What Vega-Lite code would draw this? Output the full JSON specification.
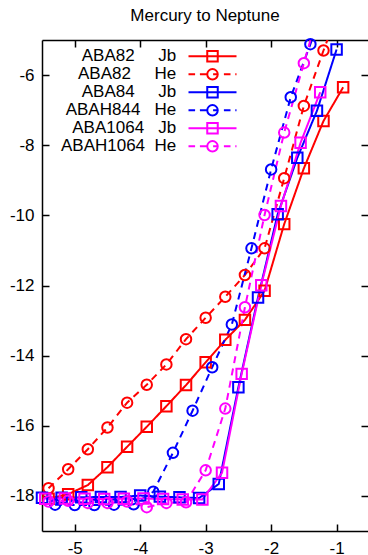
{
  "$schema": "https://vega.github.io/schema/vega-lite/v6.json",
  "width": 326,
  "height": 491,
  "autosize": {"type": "none"},
  "padding": {"left": 42, "top": 40, "right": 0, "bottom": 24},
  "title": {
    "text": "Mercury to Neptune",
    "font": "Liberation Sans",
    "fontSize": 17,
    "fontWeight": "normal",
    "color": "black",
    "anchor": "middle",
    "baseline": "alphabetic",
    "offset": 2,
    "dy": 5
  },
  "config": {
    "view": {"stroke": null},
    "font": "Liberation Sans",
    "axis": {
      "title": null,
      "grid": false,
      "domainColor": "black",
      "domainWidth": 1.5,
      "tickColor": "black",
      "tickWidth": 1.5,
      "tickSize": -7,
      "labelFont": "Liberation Sans",
      "labelFontSize": 17,
      "labelColor": "black",
      "labelFlush": false,
      "labelOverlap": false,
      "labelExpr": "toString(datum.value)"
    }
  },
  "data": {
    "values": [
      {"series": "ABA82 Jb", "kind": "Jb", "x": -5.4, "y": -18.08},
      {"series": "ABA82 Jb", "kind": "Jb", "x": -5.1, "y": -17.95},
      {"series": "ABA82 Jb", "kind": "Jb", "x": -4.8, "y": -17.69},
      {"series": "ABA82 Jb", "kind": "Jb", "x": -4.5, "y": -17.18},
      {"series": "ABA82 Jb", "kind": "Jb", "x": -4.2, "y": -16.6},
      {"series": "ABA82 Jb", "kind": "Jb", "x": -3.9, "y": -16.03},
      {"series": "ABA82 Jb", "kind": "Jb", "x": -3.6, "y": -15.44},
      {"series": "ABA82 Jb", "kind": "Jb", "x": -3.3, "y": -14.84},
      {"series": "ABA82 Jb", "kind": "Jb", "x": -3.0, "y": -14.19},
      {"series": "ABA82 Jb", "kind": "Jb", "x": -2.7, "y": -13.55},
      {"series": "ABA82 Jb", "kind": "Jb", "x": -2.4, "y": -12.98},
      {"series": "ABA82 Jb", "kind": "Jb", "x": -2.1, "y": -12.15},
      {"series": "ABA82 Jb", "kind": "Jb", "x": -1.8, "y": -10.25},
      {"series": "ABA82 Jb", "kind": "Jb", "x": -1.5, "y": -8.66},
      {"series": "ABA82 Jb", "kind": "Jb", "x": -1.2, "y": -7.31},
      {"series": "ABA82 Jb", "kind": "Jb", "x": -0.9, "y": -6.35},

      {"series": "ABA82 He", "kind": "He", "x": -5.4, "y": -17.78},
      {"series": "ABA82 He", "kind": "He", "x": -5.1, "y": -17.24},
      {"series": "ABA82 He", "kind": "He", "x": -4.8, "y": -16.67},
      {"series": "ABA82 He", "kind": "He", "x": -4.5, "y": -16.05},
      {"series": "ABA82 He", "kind": "He", "x": -4.2, "y": -15.34},
      {"series": "ABA82 He", "kind": "He", "x": -3.9, "y": -14.83},
      {"series": "ABA82 He", "kind": "He", "x": -3.6, "y": -14.25},
      {"series": "ABA82 He", "kind": "He", "x": -3.3, "y": -13.53},
      {"series": "ABA82 He", "kind": "He", "x": -3.0, "y": -12.92},
      {"series": "ABA82 He", "kind": "He", "x": -2.7, "y": -12.32},
      {"series": "ABA82 He", "kind": "He", "x": -2.4, "y": -11.7},
      {"series": "ABA82 He", "kind": "He", "x": -2.1, "y": -10.94},
      {"series": "ABA82 He", "kind": "He", "x": -1.8, "y": -8.94},
      {"series": "ABA82 He", "kind": "He", "x": -1.5, "y": -6.88},
      {"series": "ABA82 He", "kind": "He", "x": -1.2, "y": -5.3},
      {"series": "ABA82 He", "kind": "He", "x": -0.9, "y": -3.8},

      {"series": "ABA84 Jb", "kind": "Jb", "x": -5.5, "y": -18.05},
      {"series": "ABA84 Jb", "kind": "Jb", "x": -5.2, "y": -18.05},
      {"series": "ABA84 Jb", "kind": "Jb", "x": -4.9, "y": -18.04},
      {"series": "ABA84 Jb", "kind": "Jb", "x": -4.6, "y": -18.03},
      {"series": "ABA84 Jb", "kind": "Jb", "x": -4.3, "y": -18.03},
      {"series": "ABA84 Jb", "kind": "Jb", "x": -4.0, "y": -17.99},
      {"series": "ABA84 Jb", "kind": "Jb", "x": -3.7, "y": -18.02},
      {"series": "ABA84 Jb", "kind": "Jb", "x": -3.4, "y": -18.04},
      {"series": "ABA84 Jb", "kind": "Jb", "x": -3.1, "y": -18.06},
      {"series": "ABA84 Jb", "kind": "Jb", "x": -2.8, "y": -17.66},
      {"series": "ABA84 Jb", "kind": "Jb", "x": -2.5, "y": -14.9},
      {"series": "ABA84 Jb", "kind": "Jb", "x": -2.2, "y": -12.34},
      {"series": "ABA84 Jb", "kind": "Jb", "x": -1.9, "y": -9.97},
      {"series": "ABA84 Jb", "kind": "Jb", "x": -1.6, "y": -8.36},
      {"series": "ABA84 Jb", "kind": "Jb", "x": -1.3, "y": -7.02},
      {"series": "ABA84 Jb", "kind": "Jb", "x": -1.0, "y": -5.27},

      {"series": "ABAH844 He", "kind": "He", "x": -5.3, "y": -18.25},
      {"series": "ABAH844 He", "kind": "He", "x": -5.0, "y": -18.26},
      {"series": "ABAH844 He", "kind": "He", "x": -4.7, "y": -18.26},
      {"series": "ABAH844 He", "kind": "He", "x": -4.4, "y": -18.25},
      {"series": "ABAH844 He", "kind": "He", "x": -4.1, "y": -18.24},
      {"series": "ABAH844 He", "kind": "He", "x": -3.8, "y": -17.88},
      {"series": "ABAH844 He", "kind": "He", "x": -3.5, "y": -16.77},
      {"series": "ABAH844 He", "kind": "He", "x": -3.2, "y": -15.57},
      {"series": "ABAH844 He", "kind": "He", "x": -2.9, "y": -14.33},
      {"series": "ABAH844 He", "kind": "He", "x": -2.6, "y": -13.11},
      {"series": "ABAH844 He", "kind": "He", "x": -2.3, "y": -10.94},
      {"series": "ABAH844 He", "kind": "He", "x": -2.0, "y": -8.69},
      {"series": "ABAH844 He", "kind": "He", "x": -1.7, "y": -6.63},
      {"series": "ABAH844 He", "kind": "He", "x": -1.4, "y": -5.12},
      {"series": "ABAH844 He", "kind": "He", "x": -1.1, "y": -3.6},

      {"series": "ABA1064 Jb", "kind": "Jb", "x": -5.45, "y": -18.08},
      {"series": "ABA1064 Jb", "kind": "Jb", "x": -5.15, "y": -18.07},
      {"series": "ABA1064 Jb", "kind": "Jb", "x": -4.85, "y": -18.08},
      {"series": "ABA1064 Jb", "kind": "Jb", "x": -4.55, "y": -18.09},
      {"series": "ABA1064 Jb", "kind": "Jb", "x": -4.25, "y": -18.08},
      {"series": "ABA1064 Jb", "kind": "Jb", "x": -3.95, "y": -18.07},
      {"series": "ABA1064 Jb", "kind": "Jb", "x": -3.65, "y": -18.09},
      {"series": "ABA1064 Jb", "kind": "Jb", "x": -3.35, "y": -18.1},
      {"series": "ABA1064 Jb", "kind": "Jb", "x": -3.05, "y": -18.1},
      {"series": "ABA1064 Jb", "kind": "Jb", "x": -2.75, "y": -17.34},
      {"series": "ABA1064 Jb", "kind": "Jb", "x": -2.45, "y": -14.52},
      {"series": "ABA1064 Jb", "kind": "Jb", "x": -2.15, "y": -11.99},
      {"series": "ABA1064 Jb", "kind": "Jb", "x": -1.85, "y": -9.73},
      {"series": "ABA1064 Jb", "kind": "Jb", "x": -1.55, "y": -7.93},
      {"series": "ABA1064 Jb", "kind": "Jb", "x": -1.25, "y": -6.49},

      {"series": "ABAH1064 He", "kind": "He", "x": -5.4, "y": -18.16},
      {"series": "ABAH1064 He", "kind": "He", "x": -5.1, "y": -18.14},
      {"series": "ABAH1064 He", "kind": "He", "x": -4.8, "y": -18.2},
      {"series": "ABAH1064 He", "kind": "He", "x": -4.5, "y": -18.2},
      {"series": "ABAH1064 He", "kind": "He", "x": -4.2, "y": -18.16},
      {"series": "ABAH1064 He", "kind": "He", "x": -3.9, "y": -18.32},
      {"series": "ABAH1064 He", "kind": "He", "x": -3.6, "y": -18.2},
      {"series": "ABAH1064 He", "kind": "He", "x": -3.3, "y": -18.18},
      {"series": "ABAH1064 He", "kind": "He", "x": -3.0, "y": -17.27},
      {"series": "ABAH1064 He", "kind": "He", "x": -2.7, "y": -15.51},
      {"series": "ABAH1064 He", "kind": "He", "x": -2.4, "y": -12.62},
      {"series": "ABAH1064 He", "kind": "He", "x": -2.1, "y": -9.99},
      {"series": "ABAH1064 He", "kind": "He", "x": -1.8, "y": -7.64},
      {"series": "ABAH1064 He", "kind": "He", "x": -1.5, "y": -5.66},
      {"series": "ABAH1064 He", "kind": "He", "x": -1.2, "y": -3.7}
    ]
  },
  "layer": [
    {
      "mark": {"type": "line", "strokeWidth": 2, "clip": true},
      "encoding": {
        "x": {
          "field": "x", "type": "quantitative",
          "scale": {"domain": [-5.5, -0.52], "nice": false, "zero": false},
          "axis": {"orient": "bottom", "values": [-5, -4, -3, -2, -1], "labelPadding": 16}
        },
        "y": {
          "field": "y", "type": "quantitative",
          "scale": {"domain": [-19, -5], "nice": false, "zero": false},
          "axis": {"orient": "left", "values": [-18, -16, -14, -12, -10, -8, -6], "labelPadding": 15}
        },
        "color": {
          "field": "series", "type": "nominal",
          "scale": {
            "domain": ["ABA82 Jb", "ABA82 He", "ABA84 Jb", "ABAH844 He", "ABA1064 Jb", "ABAH1064 He"],
            "range": ["#ff0000", "#ff0000", "#0000ff", "#0000ff", "#ff00ff", "#ff00ff"]
          },
          "legend": {
            "orient": "none",
            "legendX": 162,
            "legendY": 7.8,
            "title": null,
            "padding": 0,
            "rowPadding": -1.6,
            "symbolSize": 144,
            "symbolStrokeWidth": 2,
            "labelAlign": "right",
            "labelOffset": -44.75,
            "labelFont": "Liberation Sans",
            "labelFontSize": 17,
            "labelColor": "black",
            "labelLimit": 0,
            "labelExpr": "pad(split(datum.label, ' ')[0], 10, '\u00a0') + split(datum.label, ' ')[1]",
            "encode": {
              "symbols": {
                "update": {
                  "shape": {"signal": "indexof(datum.value, 'He') >= 0 ? 'M-4,0L-2.9,0M-2.1,0L-1,0M0.1,0L0.85,0M1.9,0L3,0M3.8,0L4,0M0.875,0A0.875,0.875 0 1 1 -0.875,0A0.875,0.875 0 1 1 0.875,0Z' : 'M-4,0L4,0M-0.875,-0.875L0.875,-0.875L0.875,0.875L-0.875,0.875Z'"},
                  "fill": {"value": "transparent"},
                  "strokeWidth": {"value": 2},
                  "opacity": {"value": 1}
                }
              }
            }
          }
        },
        "strokeDash": {
          "field": "kind", "type": "nominal",
          "scale": {"domain": ["Jb", "He"], "range": [[1, 0], [7, 5.5]]},
          "legend": null
        }
      }
    },
    {
      "transform": [{"filter": "datum.y <= -5"}],
      "mark": {"type": "point", "filled": false, "strokeWidth": 2, "size": 110, "opacity": 1},
      "encoding": {
        "x": {
          "field": "x", "type": "quantitative",
          "axis": {"orient": "top", "values": [-5, -4, -3, -2, -1], "labels": false}
        },
        "y": {
          "field": "y", "type": "quantitative",
          "axis": {"orient": "right", "values": [-18, -16, -14, -12, -10, -8, -6], "labels": false, "domain": false}
        },
        "stroke": {
          "field": "series", "type": "nominal",
          "scale": {
            "domain": ["ABA82 Jb", "ABA82 He", "ABA84 Jb", "ABAH844 He", "ABA1064 Jb", "ABAH1064 He"],
            "range": ["#ff0000", "#ff0000", "#0000ff", "#0000ff", "#ff00ff", "#ff00ff"]
          },
          "legend": null
        },
        "shape": {
          "field": "kind", "type": "nominal",
          "scale": {"domain": ["Jb", "He"], "range": ["square", "circle"]},
          "legend": null
        }
      }
    }
  ],
  "resolve": {"axis": {"x": "independent", "y": "independent"}}
}
